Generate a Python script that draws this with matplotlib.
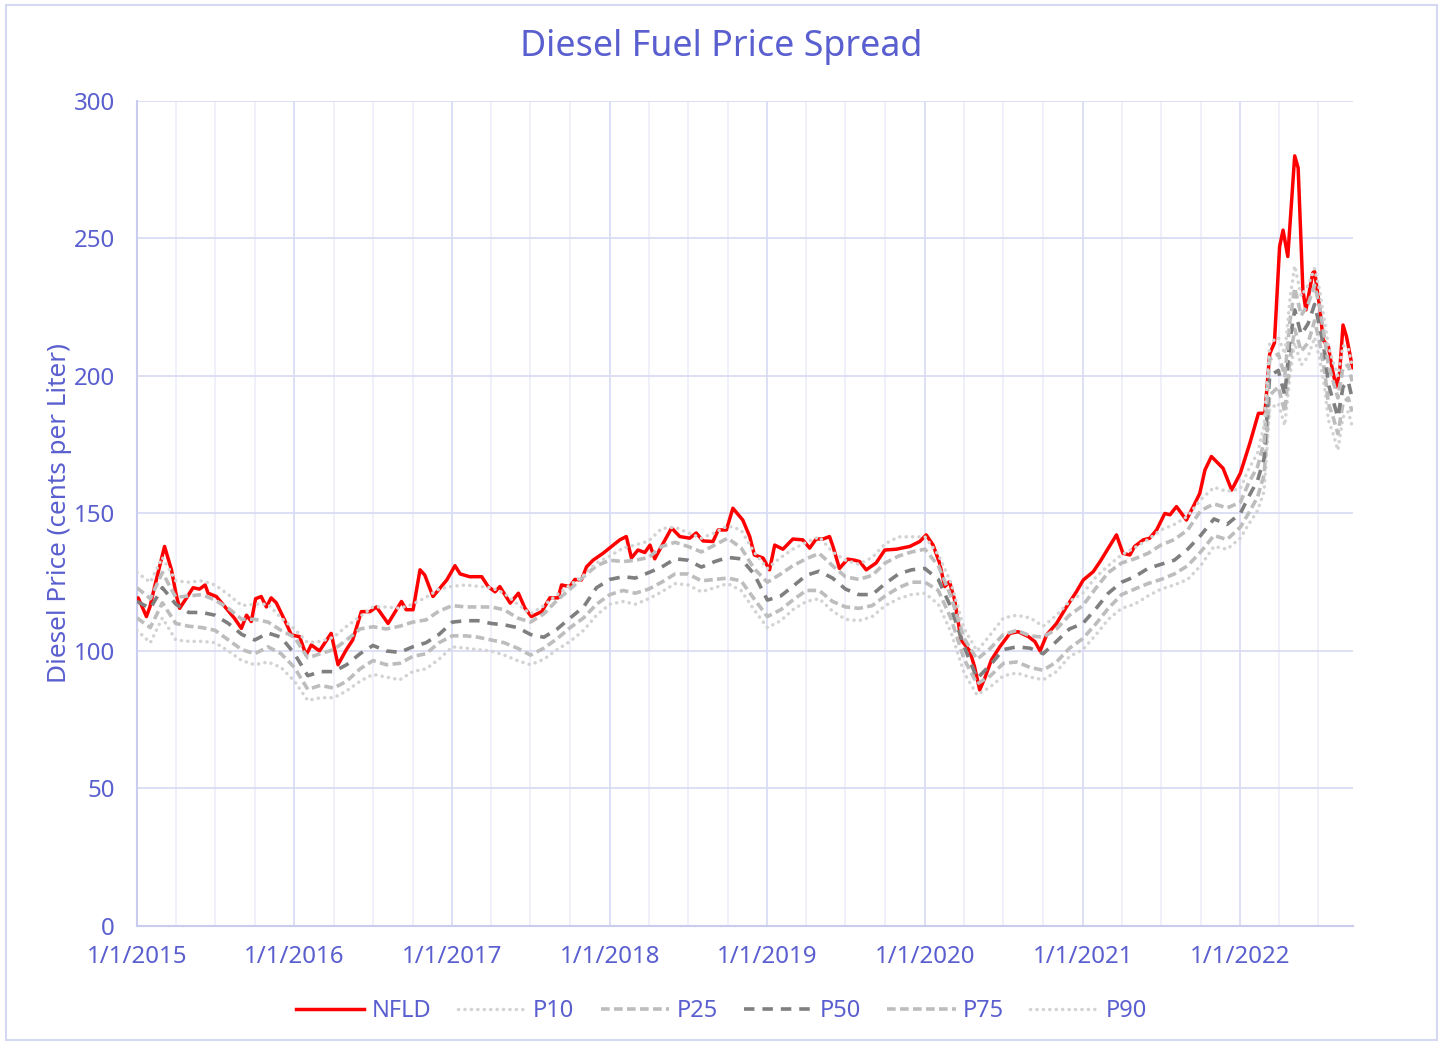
import matplotlib
matplotlib.use("Agg")
import matplotlib.pyplot as plt
import matplotlib.dates as mdates
import pandas as pd
from matplotlib.patches import Rectangle

TXT = "#5A5FCF"
GRID = "#DADCF3"
GRID_MINOR = "#EEEFF9"
plt.rcParams["font.family"] = ["Noto Sans", "DejaVu Sans"]

# ── NFLD retail diesel (cents / L) ──────────────────────────────────────────
nfld_dates = [
    "2015-01-01", "2015-01-04", "2015-01-23", "2015-01-31", "2015-02-11", "2015-03-06",
    "2015-03-22", "2015-04-02", "2015-04-10", "2015-04-26", "2015-05-11", "2015-05-26",
    "2015-06-08", "2015-06-15", "2015-07-04", "2015-07-27", "2015-08-15", "2015-08-31",
    "2015-09-12", "2015-09-23", "2015-10-03", "2015-10-16", "2015-10-28", "2015-11-08",
    "2015-11-20", "2015-12-13", "2015-12-25",
    "2016-01-13", "2016-01-28", "2016-02-09", "2016-02-28", "2016-03-26", "2016-04-11",
    "2016-04-30", "2016-05-15", "2016-06-04", "2016-06-24", "2016-07-09", "2016-08-05",
    "2016-09-05", "2016-09-16", "2016-10-02", "2016-10-18", "2016-10-29", "2016-11-17",
    "2016-12-19",
    "2017-01-07", "2017-01-19", "2017-02-10", "2017-03-10", "2017-03-25", "2017-04-10",
    "2017-04-21", "2017-05-15", "2017-06-03", "2017-06-18", "2017-07-03", "2017-07-27",
    "2017-08-15", "2017-09-03", "2017-09-11", "2017-09-30", "2017-10-12", "2017-10-27",
    "2017-11-08", "2017-11-23", "2017-12-16",
    "2018-01-09", "2018-01-24", "2018-02-08", "2018-02-20", "2018-03-07", "2018-03-23",
    "2018-04-04", "2018-04-15", "2018-05-04", "2018-05-24", "2018-06-12", "2018-07-05",
    "2018-07-20", "2018-08-05", "2018-08-28", "2018-09-09", "2018-09-28", "2018-10-13",
    "2018-11-05", "2018-11-21", "2018-12-02", "2018-12-22",
    "2019-01-06", "2019-01-18", "2019-02-06", "2019-03-01", "2019-03-24", "2019-04-09",
    "2019-04-24", "2019-05-10", "2019-05-25", "2019-06-02", "2019-06-17", "2019-07-06",
    "2019-07-22", "2019-08-03", "2019-08-18", "2019-09-10", "2019-09-30", "2019-10-27",
    "2019-11-27", "2019-12-20",
    "2020-01-04", "2020-01-20", "2020-02-04", "2020-02-16", "2020-02-27", "2020-03-10",
    "2020-03-25", "2020-04-14", "2020-04-25", "2020-05-07", "2020-05-19", "2020-06-03",
    "2020-06-23", "2020-07-16", "2020-08-04", "2020-08-28", "2020-09-12", "2020-09-24",
    "2020-10-09", "2020-11-01", "2020-11-24", "2020-12-17",
    "2021-01-02", "2021-01-25", "2021-02-10", "2021-03-20", "2021-04-04", "2021-04-20",
    "2021-05-01", "2021-05-21", "2021-06-05", "2021-06-21", "2021-07-10", "2021-07-22",
    "2021-08-06", "2021-08-29", "2021-09-14", "2021-09-29", "2021-10-11", "2021-10-26",
    "2021-11-22", "2021-12-12",
    "2022-01-01", "2022-01-23", "2022-02-12", "2022-02-27", "2022-03-10", "2022-03-21",
    "2022-04-02", "2022-04-10", "2022-04-21", "2022-04-29", "2022-05-07", "2022-05-15",
    "2022-05-26", "2022-06-02", "2022-06-18", "2022-06-22", "2022-07-04", "2022-07-12",
    "2022-07-24", "2022-08-01", "2022-08-11", "2022-08-19", "2022-08-27", "2022-09-04",
    "2022-09-16", "2022-09-19",
]
nfld_vals = [
    119, 119.3, 112.5, 116, 123.4, 138,
    129.5, 120.4, 115.5, 119.3, 123, 122.5,
    124, 121, 119.8, 115.5, 111.9, 108.2,
    113, 110.7, 119, 119.8, 116, 119.3,
    117.5, 110, 105.8,
    105.2, 98.5, 102.2, 100, 106.4, 95,
    100.4, 104, 114.3, 114.3, 116, 110,
    118, 115, 115, 129.5, 127.6, 119.8,
    125.8,
    131, 128, 127, 127, 123.4, 121.5,
    123.4, 117.4, 121, 115.6, 112.5, 114.3,
    119.3, 119.3, 124, 123.4, 126, 125.8,
    130.6, 133, 135.5,
    138.5, 140.4, 141.6, 133.8, 136.7, 135.8,
    138.5, 133.5, 139, 144.7, 141.6, 141,
    142.9, 140, 139.8, 144, 144, 151.9,
    147.6, 141.6, 134.9, 133.8,
    129.5, 138.5, 137, 140.7, 140.4, 137.4,
    140.7, 140.7, 141.6, 138, 130, 133.4,
    133, 132.5, 129.5, 132, 136.7, 137,
    138, 139.8,
    142.2, 138.5, 132, 123.4, 125.2, 118.5,
    104, 100, 94.3, 85.8, 90.2, 96.7,
    101.6, 106.4, 107, 105.2, 103.4, 100,
    105.8, 110, 116, 121.5,
    125.8, 128.8, 132.5, 142.2, 135.5, 134.9,
    138, 140.4, 141, 144, 150, 149.5,
    152.5, 147.6, 152.5, 157.3, 165.8, 170.7,
    166.4, 158.5,
    164.6, 175.5, 186.4, 186.4, 208, 212,
    247, 253, 243.4, 261.5, 280, 275.6,
    231, 224, 237.5, 238, 225, 213,
    210.7, 203.4, 196, 201, 218.5, 214.3,
    204.6, 203,
]

# ── Percentile bands: monthly to end of 2021, then finer through 2022 ────────
pct_dates_2022 = [
    "2022-01-01", "2022-01-20", "2022-02-10", "2022-02-25", "2022-03-10", "2022-03-30",
    "2022-04-14", "2022-04-26", "2022-05-07", "2022-05-22", "2022-06-07", "2022-06-22",
    "2022-07-04", "2022-07-16", "2022-07-24", "2022-08-04", "2022-08-15", "2022-08-27",
    "2022-09-08", "2022-09-17",
]
pct_dates = list(pd.date_range("2015-01-01", "2021-12-01", freq="MS")) + list(pd.to_datetime(pct_dates_2022))

p90 = [
    128.5, 125, 134, 125.5, 125, 125.5, 124, 120.5, 116.5, 117, 117, 112,
    108, 103, 103.5, 105, 109, 112.5, 116, 116, 115.5, 117, 119.5, 122.5,
    123.5, 124, 123.5, 123, 121, 117, 113.5, 116.5, 120.5, 124, 127.5, 132,
    134.5, 137.5, 138.5, 140, 144.5, 145, 143, 141, 143, 145.5, 144, 136,
    130, 134, 137, 139.5, 141.5, 136, 133, 131.5, 134, 139, 141.5, 141.5,
    141.5, 135, 125, 108, 100, 106, 112, 113, 112, 109, 113, 118,
    121, 127, 131, 135, 137.5, 140.5, 144, 146, 149, 155, 159.5, 158,
    159, 166, 172, 182, 212, 214, 208, 228, 240, 229, 233, 239,
    231, 219, 211, 205, 200, 211, 210, 204,
]
p75 = [
    123, 119, 128.5, 119.5, 120, 120.5, 118.5, 115.5, 111.5, 111.5, 110.5, 107.5,
    105, 97.5, 99, 100.5, 104, 108, 108.8, 108, 109, 110.5, 111.3, 114.5,
    116.5, 116, 116, 116, 115, 112, 110.5, 113.5, 118.5, 122.5, 127, 131,
    133, 132.5, 133, 134, 138, 139.5, 138, 136, 138.5, 141, 137.5, 130,
    125, 128, 131, 133.5, 135.5, 131, 127, 126, 127.5, 132, 134.5, 136,
    137, 131, 120, 104.5, 97, 101, 106, 107.5, 105.5, 105, 108, 113,
    116.5, 123, 128.5, 132, 133.5, 135.5, 138.5, 140.5, 144, 151, 153.5, 152,
    154, 161, 167, 176, 206, 208, 200, 220, 232, 222, 226, 233,
    225, 213, 204, 198, 192, 203, 204, 198,
]
p50 = [
    118, 115.5, 123, 117, 114, 114, 113, 110, 106, 104, 106.5, 105,
    99, 91, 92.5, 92.5, 95, 99, 102, 100, 99.5, 101.5, 103, 106,
    110.5, 111, 111, 110, 109.5, 108.5, 106, 105, 108, 112, 116, 123,
    126, 127, 126.5, 128.5, 130.5, 133.5, 133, 130.5, 132.5, 134, 133.5, 128,
    118.5, 120, 123.5, 127.5, 129, 126.5, 122.5, 120.5, 120.5, 124.5, 128, 129.5,
    130, 126, 116, 101.5, 90, 95, 100.5, 101.5, 101, 99, 103.5, 108,
    110, 115.5, 121, 125, 127, 130, 131.5, 133, 137, 142, 148, 146,
    150, 156, 162, 170, 200, 202, 193, 213, 224, 215, 219, 226,
    218, 208, 197, 191, 185, 196, 198, 192,
]
p25 = [
    112, 108.5, 117.5, 110, 109, 108.5, 107.5, 104, 100.5, 99, 101.5, 99,
    94, 86, 87.5, 86.5, 89, 93.5, 96.5, 95, 95.5, 98, 99, 103,
    105.5, 105.5, 105, 104, 103, 101, 98.5, 101, 104.5, 108.5, 112, 117,
    120.5, 122, 121, 122.5, 125, 128, 128, 125.5, 126, 126.5, 125.5, 119,
    112.5, 115, 118.5, 122, 122, 118, 116, 115.5, 116.5, 120, 123, 125,
    125, 122, 112, 97, 88, 91, 95.5, 96, 94, 93, 96, 101,
    104.5, 110, 115.5, 120.5, 122.5, 124.5, 126, 128, 131, 136, 142, 140.5,
    145, 150, 156, 164, 193, 196, 187, 206, 217, 209, 212, 220,
    212, 201, 190, 185, 179, 190, 192, 187,
]
p10 = [
    107.5, 103, 112, 104, 103.5, 103.5, 103, 100, 96.5, 95, 96, 94,
    89, 82, 83, 83, 85.5, 89, 91.5, 90.5, 89.5, 92.5, 93.5, 97,
    101.5, 101, 100.5, 100, 98.5, 96.5, 95, 97, 100.5, 103.5, 107.5, 113,
    117, 118, 117, 119, 121.5, 124.5, 124, 121.5, 123, 124.5, 122, 115,
    108.5, 111, 115, 118, 119, 114.5, 111.5, 111, 112.5, 116.5, 119, 120.5,
    121, 117, 107, 92, 84, 87, 91, 92, 90.5, 89.5, 92.5, 98,
    100.5, 106, 111.5, 115.5, 117, 120, 122.5, 124, 126, 131, 138, 137,
    141, 146, 151, 158, 188, 190, 182, 200, 212, 204, 207, 214,
    206, 195, 184, 179, 173, 185, 187, 182,
]

y_ticks = [0, 50, 100, 150, 200, 250, 300]
x_start, x_end = "2015-01-01", "2022-09-19"

# ── Figure ───────────────────────────────────────────────────────────────────
fig = plt.figure(figsize=(14.43, 10.44), dpi=100)
fig.patches.append(Rectangle((0.004, 0.004), 0.992, 0.991, transform=fig.transFigure,
                             fill=False, edgecolor="#D5D8F2", linewidth=1.5))
ax = fig.add_axes([0.0949, 0.113, 0.8427, 0.7904])

ax.plot(pd.to_datetime(nfld_dates), nfld_vals, color="#FF0000", lw=2.5,
        label="NFLD", zorder=3)

dotted = dict(color="#D3D3D3", lw=2.5, ls=(0, (0.05, 1.8)), dash_capstyle="round")
light = dict(color="#BDBDBD", lw=2.6, ls=(0, (2.4, 1.2)))
dark = dict(color="#7F7F7F", lw=2.6, ls=(0, (2.9, 2.2)))

ax.plot(pct_dates, p10, label="P10", zorder=4, **dotted)
ax.plot(pct_dates, p25, label="P25", zorder=4, **light)
ax.plot(pct_dates, p50, label="P50", zorder=4, **dark)
ax.plot(pct_dates, p75, label="P75", zorder=4, **light)
ax.plot(pct_dates, p90, label="P90", zorder=4, **dotted)

ax.set_xlim(pd.Timestamp(x_start), pd.Timestamp(x_end))
ax.set_ylim(0, 300)
ax.set_yticks(y_ticks)

ax.xaxis.set_major_locator(mdates.YearLocator())
ax.xaxis.set_major_formatter(
    matplotlib.ticker.FuncFormatter(lambda v, p: f"1/1/{mdates.num2date(v).year}"))
ax.xaxis.set_minor_locator(mdates.MonthLocator(bymonth=[4, 7, 10]))

ax.grid(True, which="major", color=GRID, lw=1.3, zorder=0)
ax.grid(True, which="minor", axis="x", color=GRID_MINOR, lw=1.3, zorder=0)
ax.set_axisbelow(True)

for side in ("top", "right"):
    ax.spines[side].set_visible(False)
for side in ("left", "bottom"):
    ax.spines[side].set_color("#C9CCEF")
    ax.spines[side].set_linewidth(1.5)

ax.tick_params(axis="both", which="both", length=0, colors=TXT, labelsize=17.3)
ax.tick_params(axis="y", pad=16)
ax.tick_params(axis="x", pad=14)

ax.set_ylabel("Diesel Price (cents per Liter)", color=TXT, fontsize=18.8, labelpad=1)
fig.text(0.5, 1 - 47 / 1044, "Diesel Fuel Price Spread", color=TXT, fontsize=25.8,
         ha="center", va="center")

fig.legend(loc="center", bbox_to_anchor=(0.5, 1 - 1011 / 1044), ncol=6, frameon=False,
           fontsize=17, labelcolor=TXT, handlelength=2.9, handletextpad=0.3,
           columnspacing=1.12)

fig.savefig("out.png", dpi=100)
